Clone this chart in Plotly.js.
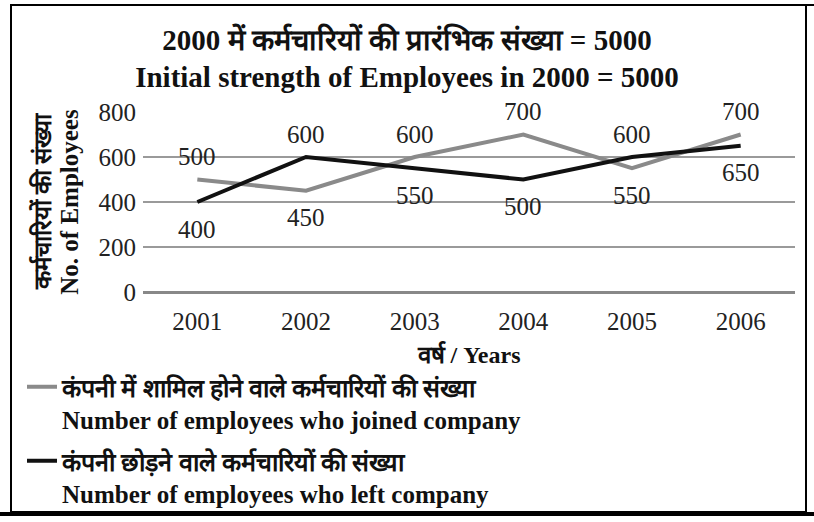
<!DOCTYPE html>
<html>
<head>
<meta charset="utf-8">
<script src="https://cdn.plot.ly/plotly-3.0.1.min.js"></script>
<style>
  body { margin: 0; background: #fff; }
  #chart { width: 814px; height: 522px; }
</style>
</head>
<body>
<div id="chart"></div>
<script>
var years = ['2001', '2002', '2003', '2004', '2005', '2006'];
var joined = [500, 450, 600, 700, 550, 700];
var leftCo = [400, 600, 550, 500, 600, 650];
var yTicks = [0, 200, 400, 600, 800];

var joinedName = '<b>कंपनी में शामिल होने वाले कर्मचारियों की संख्या<br>Number of employees who joined company</b>';
var leftName = '<b>कंपनी छोड़ने वाले कर्मचारियों की संख्या<br>Number of employees who left company</b>';

var serif = 'Liberation Serif, Times New Roman, serif';

// px -> paper coords (plot area: x 143..795, y 112..292)
function px(x) { return (x - 143) / 652; }
function py(y) { return (292 - y) / 180; }

var trace1 = {
    x: years, y: joined,
    mode: 'lines',
    name: joinedName,
    legendgroup: 'joined',
    line: { color: '#8a8a8a', width: 4 },
    type: 'scatter'
};

var trace2 = {
    x: years, y: leftCo,
    mode: 'lines',
    name: leftName,
    legendgroup: 'left',
    line: { color: '#111111', width: 4 },
    type: 'scatter'
};

// value labels: above the line if it is the higher of the two
var labels = [];
function addLabels(values, other) {
    for (var i = 0; i < values.length; i++) {
        labels.push({
            x: i, y: values[i], xref: 'x', yref: 'y',
            text: String(values[i]), showarrow: false,
            yshift: values[i] > other[i] ? 23 : -27,
            font: { family: serif, size: 25, color: '#222' }
        });
    }
}
addLabels(joined, leftCo);
addLabels(leftCo, joined);

// hindi half of the y title, a line apart from the english one
labels.push({
    x: px(42), y: 0.5, xref: 'paper', yref: 'paper',
    text: '<b>कर्मचारियों की संख्या</b>', textangle: -90, showarrow: false,
    xanchor: 'center', yanchor: 'middle',
    font: { family: serif, size: 24, color: '#111' }
});

var layout = {
    width: 814,
    height: 522,
    margin: { l: 143, r: 19, t: 112, b: 230, autoexpand: false },
    paper_bgcolor: '#ffffff',
    plot_bgcolor: '#ffffff',
    showlegend: true,
    title: {
        text: '<b>2000 में कर्मचारियों की प्रारंभिक संख्या = 5000<br>Initial strength of Employees in 2000 = 5000</b>',
        font: { family: serif, size: 29, color: '#111' },
        x: 0.5, xanchor: 'center',
        y: 0.905, yanchor: 'top', yref: 'container'
    },
    xaxis: {
        type: 'category',
        range: [-0.5, 5.5],
        showgrid: false,
        showline: false,
        ticks: '',
        ticklabelstandoff: 12,
        tickfont: { family: serif, size: 25, color: '#222' },
        title: {
            text: '<b>वर्ष / Years</b>',
            font: { family: serif, size: 24, color: '#111' },
            standoff: 12
        },
        fixedrange: true
    },
    yaxis: {
        range: [0, 800],
        tickvals: yTicks,
        showgrid: true,
        gridcolor: '#9a9a9a',
        gridwidth: 2,
        zeroline: true,
        zerolinecolor: '#888',
        zerolinewidth: 3,
        showline: false,
        ticks: '',
        ticklabelstandoff: 6,
        tickfont: { family: serif, size: 25, color: '#222' },
        title: {
            text: '<b>No. of Employees</b>',
            font: { family: serif, size: 25, color: '#111' },
            standoff: 12
        },
        fixedrange: true
    },
    legend: {
        x: px(22), y: py(364),
        xanchor: 'left', yanchor: 'top',
        valign: 'top',
        traceorder: 'grouped',
        tracegroupgap: 6,
        font: { family: serif, size: 25, color: '#111' },
        bgcolor: 'rgba(0,0,0,0)'
    },
    annotations: labels,
    shapes: [
        { type: 'rect', xref: 'paper', yref: 'paper',
          x0: px(11), x1: px(806), y0: py(512), y1: py(5),
          line: { color: '#000', width: 2 } },
        { type: 'line', xref: 'paper', yref: 'paper',
          x0: px(0), x1: px(814), y0: py(514), y1: py(514),
          line: { color: '#000', width: 4 } },
        { type: 'line', xref: 'paper', yref: 'paper',
          x0: px(806), x1: px(814), y0: py(5), y1: py(5),
          line: { color: '#000', width: 2 } }
    ]
};

Plotly.newPlot('chart', [trace1, trace2], layout, { displayModeBar: false, staticPlot: true });
</script>
</body>
</html>
